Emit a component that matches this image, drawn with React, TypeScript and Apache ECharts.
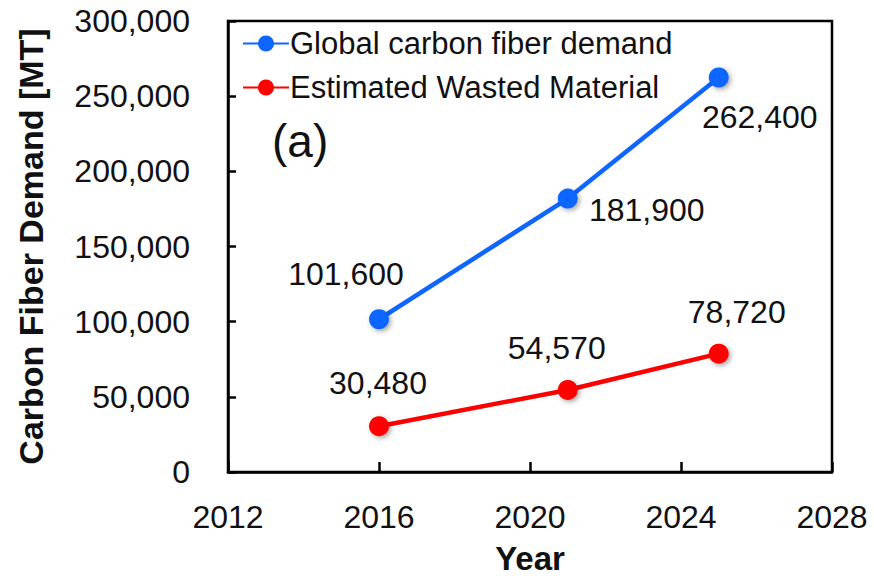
import React, { useEffect, useRef } from "react";
import * as echarts from "echarts";

// Years on the x axis
const years = [2016, 2021, 2025];
// Global carbon fiber demand [MT]
const demand = [101600, 181900, 262400];
// Estimated wasted material [MT]
const wasted = [30480, 54570, 78720];
const seriesNames = ["Global carbon fiber demand", "Estimated Wasted Material"];

// Label placement relative to each marker (px)
const demandLabelOffsets = [
  [-33, -45],
  [79, 11],
  [41, 39],
];
const wastedLabelOffsets = [
  [-1, -43],
  [-11, -42],
  [18, -42],
];

const FONT = '"Liberation Sans", Arial, Helvetica, sans-serif';
const BLUE = "#0f66ff";
const RED = "#ff0000";

const fmt = (v: number) => v.toLocaleString("en-US");

function buildSeries(
  name: string,
  values: number[],
  offsets: number[][],
  color: string
) {
  return {
    name,
    type: "line",
    symbol: "circle",
    symbolSize: 20,
    lineStyle: { color, width: 4.5 },
    itemStyle: {
      color,
      shadowBlur: 5,
      shadowOffsetX: 2,
      shadowOffsetY: 2,
      shadowColor: "rgba(0,0,0,0.35)",
    },
    data: values.map((v, i) => ({
      value: [years[i], v],
      label: {
        show: true,
        position: "inside",
        offset: offsets[i],
        formatter: () => fmt(v),
        color: "#111",
        fontSize: 32,
        fontFamily: FONT,
        align: "center",
        verticalAlign: "middle",
      },
    })),
    z: 3,
  };
}

export default function App() {
  const ref = useRef<HTMLDivElement>(null);

  useEffect(() => {
    if (!ref.current) return;
    const chart = echarts.init(ref.current, null, { renderer: "svg" });
    chart.setOption({
      animation: false,
      backgroundColor: "#fff",
      textStyle: { fontFamily: FONT },
      grid: {
        left: 228,
        right: 42,
        top: 21,
        bottom: 106,
        show: true,
        borderColor: "#000",
        borderWidth: 2.5,
        backgroundColor: "transparent",
      },
      legend: {
        orient: "vertical",
        left: 237,
        top: 23,
        itemWidth: 46,
        itemHeight: 20,
        itemGap: 13,
        textStyle: { fontSize: 31, color: "#111", fontFamily: FONT, padding: [0, 0, 0, -4] },
        data: seriesNames,
      },
      xAxis: {
        type: "value",
        min: 2012,
        max: 2028,
        interval: 4,
        name: "Year",
        nameLocation: "middle",
        nameGap: 70,
        nameTextStyle: { fontSize: 33, fontWeight: "bold", color: "#111", fontFamily: FONT },
        axisLine: { show: true, lineStyle: { color: "#000", width: 2.5 } },
        axisTick: { show: true, inside: true, length: 10, lineStyle: { color: "#000", width: 2.5 } },
        axisLabel: {
          fontSize: 32,
          color: "#111",
          fontFamily: FONT,
          margin: 29,
          formatter: (v: number) => String(v),
        },
        splitLine: { show: false },
      },
      yAxis: {
        type: "value",
        min: 0,
        max: 300000,
        interval: 50000,
        name: "Carbon Fiber Demand [MT]",
        nameLocation: "middle",
        nameGap: 180,
        nameTextStyle: { fontSize: 34, fontWeight: "bold", color: "#111", fontFamily: FONT },
        axisLine: { show: true, lineStyle: { color: "#000", width: 2.5 } },
        axisTick: { show: true, inside: true, length: 8, lineStyle: { color: "#000", width: 2.5 } },
        axisLabel: {
          fontSize: 32,
          color: "#111",
          fontFamily: FONT,
          margin: 38,
          formatter: (v: number) => fmt(v),
        },
        splitLine: { show: false },
      },
      graphic: [
        {
          type: "text",
          left: 272,
          top: 118,
          style: { text: "(a)", fontSize: 46, fill: "#111", fontFamily: FONT },
          z: 10,
        },
      ],
      series: [
        buildSeries(seriesNames[0], demand, demandLabelOffsets, BLUE),
        buildSeries(seriesNames[1], wasted, wastedLabelOffsets, RED),
      ],
    });
    return () => chart.dispose();
  }, []);

  return (
    <div
      ref={ref}
      style={{ position: "fixed", left: 0, top: 0, width: 874, height: 580, background: "#fff" }}
    />
  );
}
